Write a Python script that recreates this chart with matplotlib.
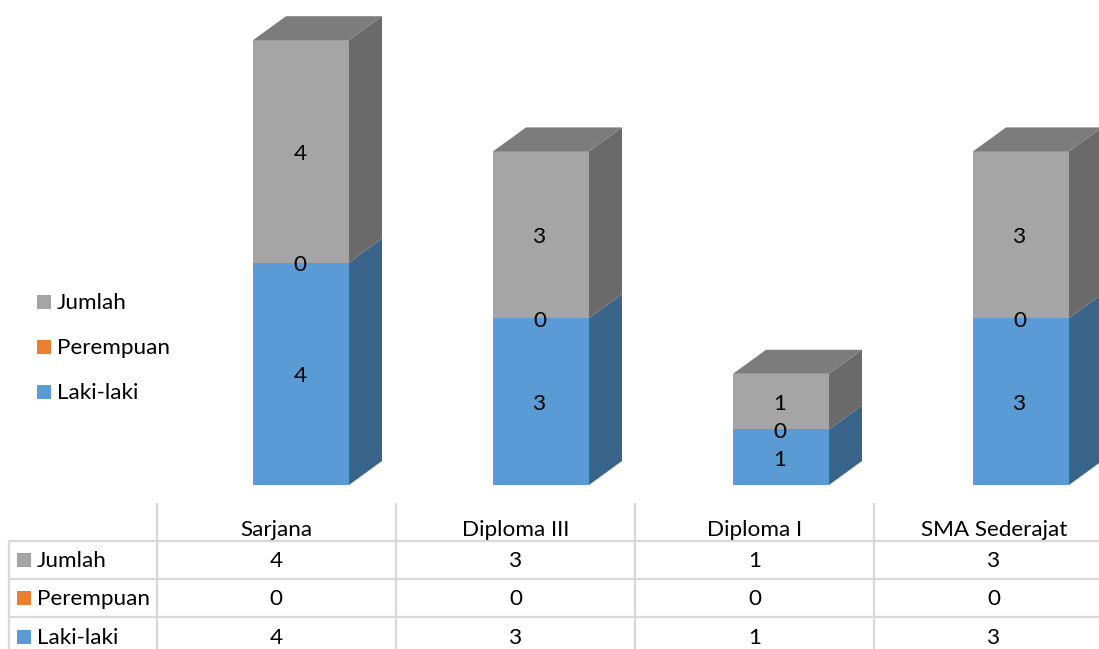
import matplotlib
matplotlib.use("Agg")
import matplotlib.pyplot as plt
from matplotlib.patches import Polygon, Rectangle

plt.rcParams['font.family'] = ['Lato', 'DejaVu Sans']

categories = ["Sarjana", "Diploma III", "Diploma I", "SMA Sederajat"]
laki = [4, 3, 1, 3]
perempuan = [0, 0, 0, 0]
jumlah = [4, 3, 1, 3]

series_names = ["Laki-laki", "Perempuan", "Jumlah"]
series_values = [laki, perempuan, jumlah]
front_colors = ["#5B9BD5", "#ED7D31", "#A5A5A5"]
side_colors = ["#3A6489", "#98511F", "#6A6A6A"]
top_colors = ["#44759F", "#B25E25", "#7C7C7C"]

W, H = 1099, 649
FS = 16.2

fig = plt.figure(figsize=(W / 100, H / 100), dpi=100)

# bars: x in category index, y in value units
px_x = 240.0
px_y = 55.6
x0 = 301.0
y0 = 485.0
ax = fig.add_axes([0, 0, 1, 1])
ax.set_xlim(-x0 / px_x, (W - x0) / px_x)
ax.set_ylim((y0 - H) / px_y, y0 / px_y)
ax.axis("off")

bar_w = 96 / px_x
dx = 33 / px_x
dy = 24 / px_y

for i in range(len(categories)):
    bottom = 0
    for s in range(3):
        v = series_values[s][i]
        l = i - bar_w / 2
        r = i + bar_w / 2
        top = bottom + v
        ax.add_patch(Polygon([(r, bottom), (r + dx, bottom + dy), (r + dx, top + dy), (r, top)],
                             closed=True, fc=side_colors[s], ec="none"))
        ax.add_patch(Rectangle((l, bottom), bar_w, v, fc=front_colors[s], ec="none"))
        if s == 2:
            ax.add_patch(Polygon([(l, top), (l + dx, top + dy), (r + dx, top + dy), (r, top)],
                                 closed=True, fc=top_colors[s], ec="none"))
        bottom = top

# labels go on top of all bars
for i in range(len(categories)):
    bottom = 0
    for s in range(3):
        v = series_values[s][i]
        ax.text(i - 1.0 / px_x, bottom + v / 2 - 2.5 / px_y, str(v), ha="center", va="center",
                fontsize=FS, color="black", zorder=5)
        bottom += v

# legend and table are laid out in pixels
pa = fig.add_axes([0, 0, 1, 1])
pa.set_xlim(0, W)
pa.set_ylim(H, 0)
pa.axis("off")
pa.patch.set_alpha(0)

legend_y = [392, 347, 302]
for s in range(3):
    pa.add_patch(Rectangle((37, legend_y[s] - 7), 14, 14, fc=front_colors[s], ec="none"))
    pa.text(57, legend_y[s] + 1, series_names[s], ha="left", va="center", fontsize=FS)

line_c = "#D9D9D9"
col_x = [157, 396, 635, 874]
row_y = [541, 579, 617]
for y in row_y:
    pa.plot([9, W], [y, y], color=line_c, lw=1.6, solid_capstyle="butt")
pa.plot([9, 9], [541, H], color=line_c, lw=1.6, solid_capstyle="butt")
for x in col_x:
    pa.plot([x, x], [503, H], color=line_c, lw=1.6, solid_capstyle="butt")

col_c = [276, 516, 755, 994]
for j, name in enumerate(categories):
    pa.text(col_c[j], 530, name, ha="center", va="center", fontsize=FS)

table_y = [637, 598, 560]
for s in range(3):
    pa.add_patch(Rectangle((17, table_y[s] - 7), 14, 14, fc=front_colors[s], ec="none"))
    pa.text(37, table_y[s] + 1, series_names[s], ha="left", va="center", fontsize=FS)
    for j in range(len(categories)):
        pa.text(col_c[j], table_y[s] + 1, str(series_values[s][j]), ha="center", va="center", fontsize=FS)

fig.savefig("out.png", dpi=100)
